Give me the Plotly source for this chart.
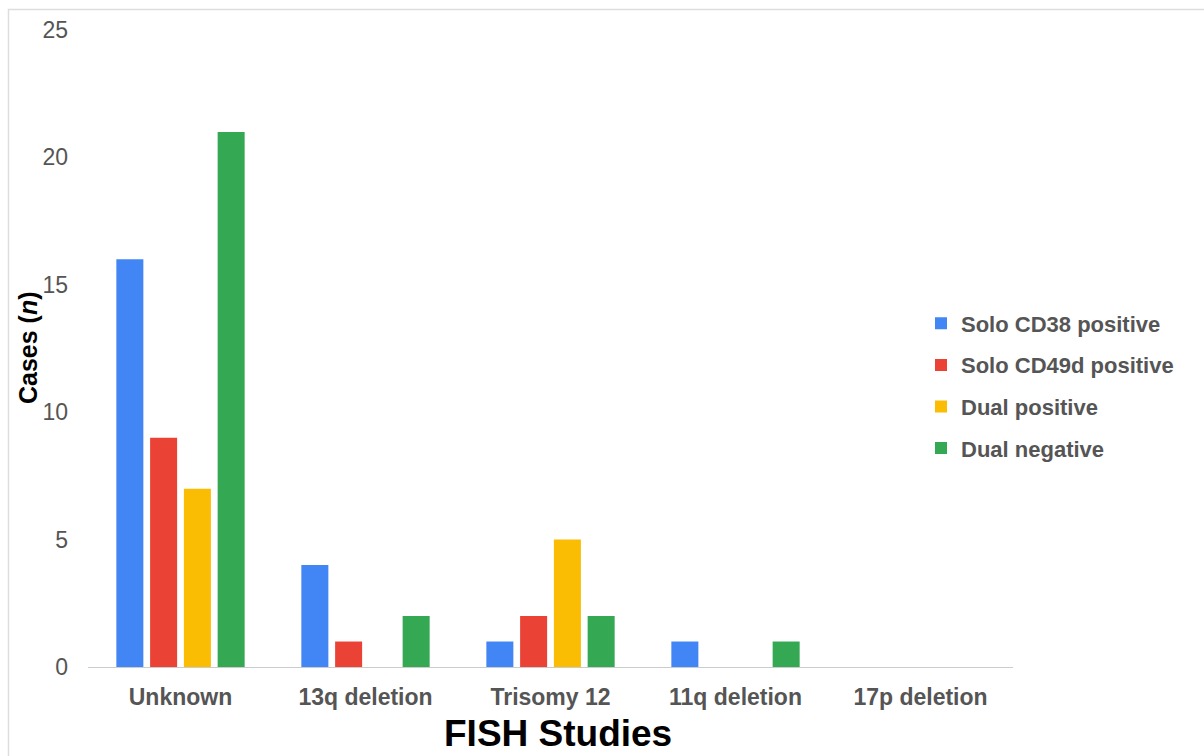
import plotly.graph_objects as go

categories = ["Unknown", "13q deletion", "Trisomy 12", "11q deletion", "17p deletion"]
solo_cd38 = [16, 4, 1, 1, 0]
solo_cd49d = [9, 1, 2, 0, 0]
dual_positive = [7, 0, 5, 0, 0]
dual_negative = [21, 2, 2, 1, 0]

series = [
    ("Solo CD38 positive", solo_cd38, "#4285F4"),
    ("Solo CD49d positive", solo_cd49d, "#EA4335"),
    ("Dual positive", dual_positive, "#FBBC04"),
    ("Dual negative", dual_negative, "#34A853"),
]

FONT = "Arial, Liberation Sans, sans-serif"

fig = go.Figure()
for name, vals, color in series:
    fig.add_trace(go.Bar(
        x=categories, y=vals, name=name, legendgroup=name,
        marker=dict(color=color, line=dict(width=0)),
    ))

W, H = 1204, 756
L, R, T, B = 88, 191, 30, 89
pw, ph = W - L - R, H - T - B

fig.update_layout(
    width=W, height=H,
    margin=dict(l=L, r=R, t=T, b=B, autoexpand=False),
    paper_bgcolor="white", plot_bgcolor="white",
    barmode="group", bargap=0.27, bargroupgap=0.2,
    font=dict(family=FONT, color="#555555"),
    legend=dict(
        x=(921 - L) / pw, xanchor="left",
        y=(H - B - 386) / ph, yanchor="middle",
        font=dict(size=22, color="#555555", family=FONT, weight="bold"),
        tracegroupgap=10, bgcolor="rgba(0,0,0,0)",
        itemwidth=30,
    ),
    xaxis=dict(
        showline=True, linecolor="#cccccc", linewidth=1,
        showgrid=False, ticks="",
        tickfont=dict(size=23, color="#555555", family=FONT, weight="bold"),
        ticklabelstandoff=9,
    ),
    yaxis=dict(
        range=[0, 25], tickvals=[0, 5, 10, 15, 20, 25],
        showgrid=False, zeroline=False, showline=False, ticks="",
        tickfont=dict(size=23, color="#555555", family=FONT),
        ticklabelstandoff=19,
    ),
    annotations=[
        dict(
            text="<b>FISH Studies</b>", xref="paper", yref="paper",
            x=(558 - L) / pw, y=-(733 - (H - B)) / ph,
            xanchor="center", yanchor="middle", showarrow=False,
            font=dict(size=37, color="#000000", family=FONT),
        ),
        dict(
            text="<b>Cases (<i>n</i>)</b>", xref="paper", yref="paper",
            x=-(L - 28) / pw, y=(H - B - 348) / ph,
            xanchor="center", yanchor="middle", textangle=-90, showarrow=False,
            font=dict(size=25, color="#000000", family=FONT),
        ),
    ],
    shapes=[dict(
        type="rect", xref="paper", yref="paper",
        x0=(8.5 - L) / pw, x1=1.5, y0=-0.5, y1=(H - B - 9.5) / ph,
        line=dict(color="#dddddd", width=1.5), fillcolor="rgba(0,0,0,0)", layer="below",
    )],
)

fig.write_html("out.html")
